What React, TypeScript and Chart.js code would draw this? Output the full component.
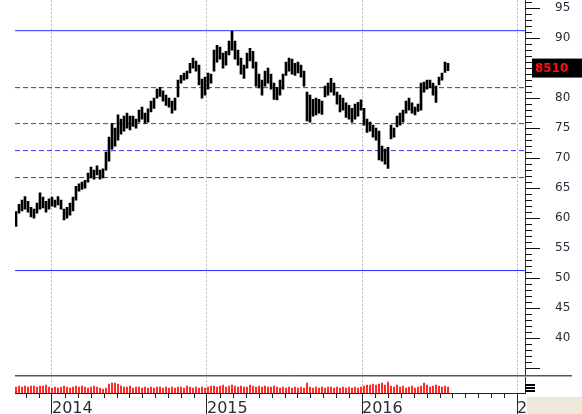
import React, { useEffect, useRef } from 'react';
import { Chart, registerables } from 'chart.js';
Chart.register(...registerables);

// x axis in decimal years
const xMin = 2013.7613;
const xMax = 2017.0516;
const startYear = 2013.7678;
const weekStep = 3 / 155;
const yearTicks = [2014, 2015, 2016, 2017];

// price axis
const yMax = 96 + 1 / 3;
const yMin = yMax - 65.5;
const priceTickLabels = [40, 45, 50, 55, 60, 65, 70, 75, 80, 85, 90, 95];
const lastClose = 85.1;

const solidLevels = [91.25, 51.25];
const dashedLevels = [81.75, 75.75, 71.25, 66.75];

const weeklyLow = [
  58.6, 60.8, 61.2, 61.5, 61.0, 60.2, 60.0, 60.8, 61.5, 61.7, 61.0, 61.5, 62.0, 61.8, 62.2, 61.5,
  59.7, 60.0, 60.5, 61.2, 63.0, 64.5, 64.8, 65.0, 66.0, 66.7, 66.5, 67.2, 66.5, 66.7, 68.0, 69.5,
  71.5, 72.0, 73.0, 74.0, 74.5, 75.0, 74.7, 75.3, 75.0, 76.0, 76.5, 75.8, 76.0, 77.7, 78.3, 80.0,
  80.3, 79.5, 78.8, 78.5, 77.5, 78.0, 80.2, 82.5, 83.0, 83.2, 84.2, 85.0, 84.5, 82.2, 80.0, 80.5,
  81.5, 82.5, 84.5, 86.0, 86.5, 85.0, 85.5, 87.2, 88.0, 86.5, 85.5, 84.0, 83.3, 85.0, 86.2, 85.0,
  82.0, 81.7, 80.5, 82.0, 82.5, 81.5, 79.8, 79.7, 80.5, 81.5, 83.8, 84.5, 84.0, 83.8, 84.2, 83.5,
  82.0, 76.2, 76.0, 77.0, 77.2, 77.5, 77.3, 80.2, 80.5, 81.0, 80.5, 79.0, 77.7, 78.0, 76.8, 76.5,
  76.0, 76.5, 77.0, 78.0, 75.5, 74.3, 74.5, 73.5, 73.0, 69.7, 69.5, 69.0, 68.3, 73.2, 73.5, 75.2,
  75.5, 76.0, 77.5, 78.0, 77.5, 77.2, 77.8, 78.0, 81.0, 81.5, 81.7, 80.5, 79.3, 82.2, 83.0, 84.3,
  84.6,
];
const weeklyHigh = [
  61.1, 62.3, 63.0, 63.6, 62.8, 61.8, 61.5, 62.5, 64.2, 63.5, 62.8, 63.2, 63.5, 63.0, 63.6, 63.0,
  61.5, 61.8, 62.5, 63.5, 65.3, 65.7, 66.0, 66.3, 67.5, 68.5, 68.0, 68.7, 68.0, 68.2, 71.0, 73.5,
  75.8, 75.0, 77.2, 76.5, 77.0, 77.5, 77.0, 77.0, 76.5, 78.0, 78.5, 77.5, 78.2, 79.5, 80.0, 81.5,
  81.8, 81.2, 80.5, 80.0, 79.5, 80.0, 83.0, 83.8, 84.2, 84.5, 85.8, 86.7, 86.2, 85.5, 83.2, 83.5,
  84.2, 84.0, 88.0, 88.8, 88.5, 87.5, 87.8, 89.5, 91.2, 89.5, 88.0, 86.7, 85.5, 87.5, 88.3, 87.8,
  86.0, 84.0, 83.0, 84.5, 85.0, 84.0, 82.5, 81.8, 83.0, 84.0, 86.0, 86.7, 86.5, 85.8, 86.0, 85.5,
  84.5, 81.0, 80.5, 79.8, 80.0, 79.8, 79.5, 82.0, 82.5, 83.3, 82.5, 81.0, 80.5, 80.0, 79.2, 78.8,
  78.3, 79.0, 79.3, 79.7, 78.3, 76.5, 76.0, 75.5, 75.0, 74.5, 72.0, 71.5, 71.8, 75.5, 75.0, 77.0,
  77.5, 78.0, 79.5, 80.0, 79.2, 78.5, 79.0, 82.5, 82.7, 83.0, 83.0, 82.5, 82.0, 83.5, 84.2, 86.0,
  85.8,
];
const weeklyVolume = [
  6, 7, 6, 7, 6, 7, 7, 6, 7, 7, 8, 6,
  5, 6, 5, 6, 7, 6, 5, 6, 7, 6, 7, 6, 5, 6, 7, 6, 5, 4, 5,
  9, 10, 10, 9,
  7, 6, 6, 7, 5, 6, 6, 5, 6, 5, 6, 5, 6, 6, 5, 6, 5, 6, 5, 6, 6, 5, 7, 6, 5, 6, 5, 6, 5,
  6, 7, 7, 6, 7, 8, 6, 7, 8, 7, 6, 7, 6, 6, 8, 7, 6, 7, 6, 7, 6, 6, 7, 6, 5, 6, 5, 6, 5, 6, 5, 6, 5,
  10,
  6, 5, 6, 5, 6, 5, 6, 6, 5, 6, 5, 6, 5, 6, 5, 6, 5, 6,
  7, 8, 8, 9, 8, 9, 10, 8, 11,
  7, 6, 8, 6, 7, 5, 6, 7, 5, 6,
  7, 10, 8, 6, 7, 8, 7, 6, 7, 6,
];

const FONT = 'DejaVu Sans';

const decorations = {
  id: 'decorations',
  afterDraw(chart: any) {
    const ctx = chart.ctx;
    const { left, right, bottom } = chart.chartArea;
    const ys = chart.scales.y;
    const xs = chart.scales.x;
    ctx.save();
    // price axis ticks
    ctx.strokeStyle = '#111';
    ctx.lineWidth = 1;
    for (let v = 35; v <= 96; v++) {
      const py = Math.round(ys.getPixelForValue(v)) + 0.5;
      const len = v % 5 === 0 ? 15 : 7;
      ctx.beginPath();
      ctx.moveTo(right, py);
      ctx.lineTo(right + len, py);
      ctx.stroke();
    }
    // volume pane separator
    ctx.strokeStyle = '#555';
    ctx.beginPath();
    ctx.moveTo(left, bottom - 17.5);
    ctx.lineTo(right + 47, bottom - 17.5);
    ctx.stroke();
    ctx.strokeStyle = '#aaa';
    ctx.beginPath();
    ctx.moveTo(left, bottom - 16.5);
    ctx.lineTo(right + 47, bottom - 16.5);
    ctx.stroke();
    // volume axis marks
    ctx.strokeStyle = '#000';
    ctx.lineWidth = 2;
    [8, 5, 2].forEach((d) => {
      ctx.beginPath();
      ctx.moveTo(right, bottom - d);
      ctx.lineTo(right + 10, bottom - d);
      ctx.stroke();
    });
    // monthly ticks
    ctx.lineWidth = 1;
    ctx.strokeStyle = '#222';
    for (let yr = 2013; yr <= 2017; yr++) {
      for (let m = 1; m < 12; m++) {
        const v = yr + m / 12;
        if (v <= xMin || v >= xMax) continue;
        const px = Math.round(xs.getPixelForValue(v)) + 0.5;
        ctx.beginPath();
        ctx.moveTo(px, bottom);
        ctx.lineTo(px, bottom + 5);
        ctx.stroke();
      }
    }
    // beige corner
    ctx.fillStyle = '#ECE9D8';
    ctx.fillRect(right + 2, bottom + 4, 100, 40);
    // last price label
    const py = ys.getPixelForValue(lastClose);
    ctx.fillStyle = '#000';
    ctx.fillRect(right + 7, py - 9, 60, 19);
    ctx.fillStyle = '#ff1010';
    ctx.font = `bold 12px ${FONT}`;
    ctx.textBaseline = 'middle';
    ctx.textAlign = 'left';
    ctx.fillText((lastClose * 100).toFixed(0), right + 10, py + 1);
    ctx.restore();
  },
};

export default function App() {
  const ref = useRef<HTMLCanvasElement | null>(null);
  useEffect(() => {
    document.body.style.margin = '0';
    document.body.style.background = '#fff';
    const levelSets = [
      ...solidLevels.map((v) => ({ v, dash: [] as number[] })),
      ...dashedLevels.map((v) => ({ v, dash: [5, 3] })),
    ];
    const chart = new Chart(ref.current as HTMLCanvasElement, {
      type: 'bar',
      data: {
        datasets: [
          ...levelSets.map((l) => ({
            type: 'line' as const,
            data: [
              { x: xMin, y: l.v },
              { x: xMax, y: l.v },
            ],
            borderColor: '#3030ff',
            borderWidth: 1,
            borderDash: l.dash,
            pointRadius: 0,
            yAxisID: 'y',
            order: 2,
          })),
          {
            type: 'bar' as const,
            data: weeklyLow.map((lo, i) => ({ x: startYear + i * weekStep, y: [lo, weeklyHigh[i]] })),
            backgroundColor: '#000',
            barThickness: 2,
            grouped: false,
            yAxisID: 'y',
            order: 1,
          },
          {
            type: 'bar' as const,
            data: weeklyVolume.map((v, i) => ({ x: startYear + i * weekStep, y: v })),
            backgroundColor: '#ff0000',
            barThickness: 1,
            grouped: false,
            yAxisID: 'yv',
            order: 1,
          },
        ] as any,
      },
      options: {
        animation: false,
        responsive: false,
        maintainAspectRatio: false,
        devicePixelRatio: 1,
        layout: { padding: { left: 15, right: 0, top: 0, bottom: 0 } },
        plugins: { legend: { display: false }, tooltip: { enabled: false } },
        scales: {
          x: {
            type: 'linear',
            min: xMin,
            max: xMax,
            offset: false,
            afterBuildTicks: (s: any) => {
              s.ticks = yearTicks.map((v) => ({ value: v }));
            },
            afterFit: (s: any) => {
              s.height = 21;
            },
            grid: {
              offset: false,
              color: '#b4b4b4',
              lineWidth: 1,
              tickColor: '#222',
              tickLength: 21,
              tickWidth: 1,
              tickBorderDash: [],
            } as any,
            border: { display: true, color: '#222', width: 1, dash: [2, 2] },
            ticks: {
              autoSkip: false,
              maxRotation: 0,
              align: 'start',
              padding: -15,
              color: '#2a2a3a',
              font: { family: FONT, size: 16 },
              callback: (v: any) => String(v),
            },
          },
          y: {
            type: 'linear',
            position: 'right',
            min: yMin,
            max: yMax,
            afterBuildTicks: (s: any) => {
              s.ticks = priceTickLabels.map((v) => ({ value: v }));
            },
            afterFit: (s: any) => {
              s.width = 57;
            },
            grid: { display: false, drawTicks: true, tickLength: 37 },
            border: { display: true, color: '#333', width: 1 },
            ticks: {
              padding: -7,
              color: '#2a2a3a',
              font: { family: FONT, size: 12 },
              callback: (v: any) => String(v),
            },
          },
          yv: {
            type: 'linear',
            display: false,
            min: 0,
            max: 393,
          },
        },
      } as any,
      plugins: [decorations],
    });
    return () => chart.destroy();
  }, []);
  return (
    <div style={{ width: 582, height: 414, background: '#fff' }}>
      <canvas ref={ref} width={582} height={414} />
    </div>
  );
}
